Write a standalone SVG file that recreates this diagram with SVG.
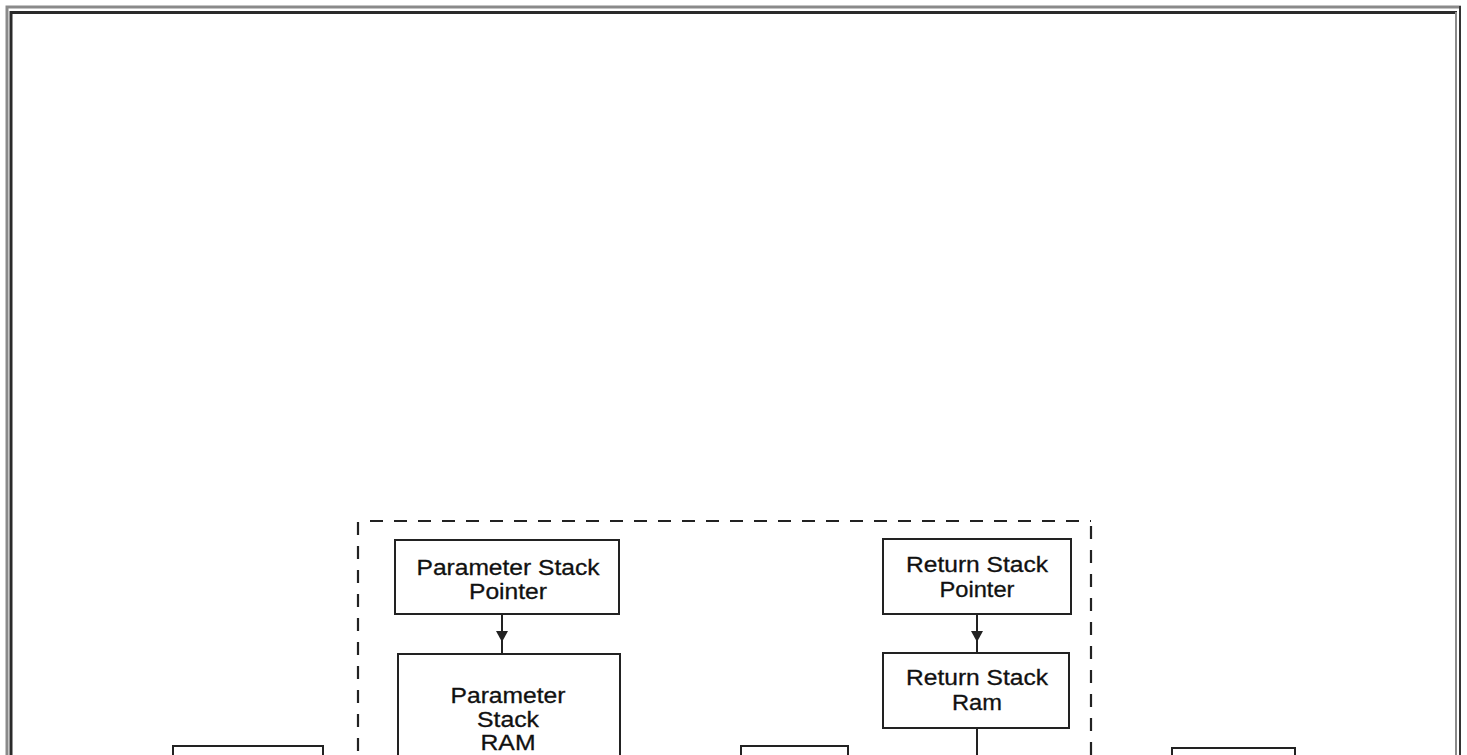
<svg xmlns="http://www.w3.org/2000/svg" width="1467" height="755" viewBox="0 0 1467 755">
<style>
.box{fill:#fff;stroke:#222;stroke-width:2}
.t{font-family:"Liberation Sans",Arial,sans-serif;font-size:22px;fill:#111;text-anchor:middle;stroke:#111;stroke-width:0.3}
.ln{stroke:#222;stroke-width:2;fill:none}
.dash{stroke:#222;stroke-width:2.2;fill:none;stroke-dasharray:13 11}
</style>
<rect width="1467" height="755" fill="#fff"/>
<g id="frame">
<path d="M7,760 V7 H1461" fill="none" stroke="#8a8a8a" stroke-width="3"/>
<path d="M1460,6 V760" fill="none" stroke="#333" stroke-width="2"/>
<path d="M11,760 V12.5 H1457" fill="none" stroke="#2a2a2a" stroke-width="3"/>
<path d="M1456,12 V760" fill="none" stroke="#8a8a8a" stroke-width="2"/>
</g>
<g id="stack-unit">
<path class="dash" d="M370,521 H1091"/>
<path class="dash" d="M358,522 V760"/>
<path class="dash" d="M1091,526 V760"/>
</g>
<g id="connectors">
<path class="ln" d="M502,614 V654"/>
<path d="M496,631 L508,631 L502,642 Z" fill="#222"/>
<path class="ln" d="M977,614 V653"/>
<path d="M971,631 L983,631 L977,642 Z" fill="#222"/>
<path class="ln" d="M977,728 V760"/>
</g>
<g id="param-stack-pointer">
<rect class="box" x="395" y="540" width="224" height="74"/>
<text class="t" x="508" y="575" textLength="183" lengthAdjust="spacingAndGlyphs">Parameter Stack</text>
<text class="t" x="508" y="599" textLength="78" lengthAdjust="spacingAndGlyphs">Pointer</text>
</g>
<g id="param-stack-ram">
<rect class="box" x="398" y="654" width="222" height="130"/>
<text class="t" x="508" y="703" textLength="115" lengthAdjust="spacingAndGlyphs">Parameter</text>
<text class="t" x="508" y="727" textLength="62" lengthAdjust="spacingAndGlyphs">Stack</text>
<text class="t" x="508" y="750" textLength="55" lengthAdjust="spacingAndGlyphs">RAM</text>
</g>
<g id="return-stack-pointer">
<rect class="box" x="883" y="539" width="188" height="75"/>
<text class="t" x="977" y="572" textLength="142" lengthAdjust="spacingAndGlyphs">Return Stack</text>
<text class="t" x="977" y="597" textLength="75" lengthAdjust="spacingAndGlyphs">Pointer</text>
</g>
<g id="return-stack-ram">
<rect class="box" x="883" y="653" width="186" height="75"/>
<text class="t" x="977" y="685" textLength="142" lengthAdjust="spacingAndGlyphs">Return Stack</text>
<text class="t" x="977" y="710" textLength="50" lengthAdjust="spacingAndGlyphs">Ram</text>
</g>
<g id="left-box">
<rect class="box" x="173" y="746" width="150" height="60"/>
</g>
<g id="middle-box">
<rect class="box" x="741" y="746" width="107" height="60"/>
</g>
<g id="right-box">
<rect class="box" x="1172" y="748" width="123" height="60"/>
</g>
</svg>
